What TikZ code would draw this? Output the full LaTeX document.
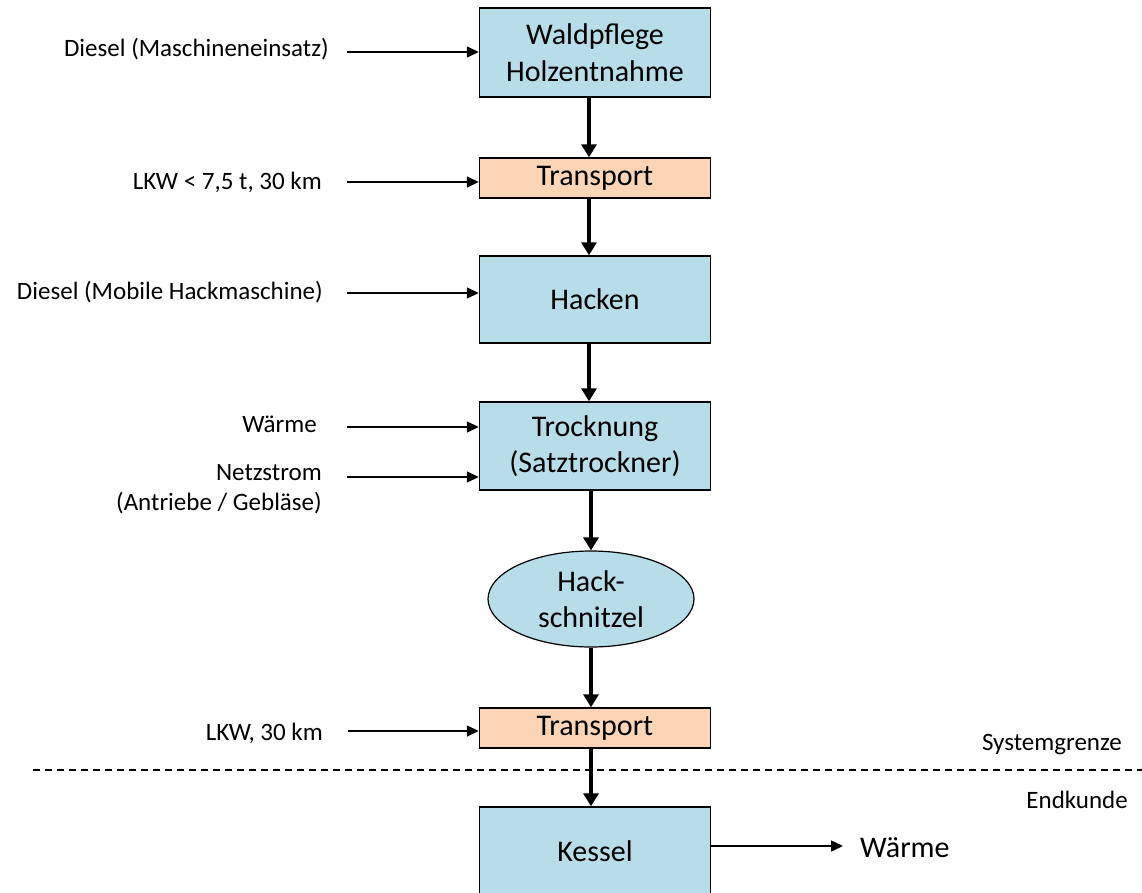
\documentclass[tikz,border=0pt]{standalone}
\usepackage{fontspec}
\setmainfont{Carlito}
\usetikzlibrary{arrows.meta,shapes.geometric}
\definecolor{boxblue}{HTML}{B7DDE8}
\definecolor{boxpeach}{HTML}{FBD5B5}
\begin{document}
\begin{tikzpicture}[x=1pt,y=-1pt,
  proc/.style={draw=black, line width=1.4pt, fill=boxblue, minimum width=231pt, inner sep=0pt, align=center, font=\fontsize{30}{36.6}\selectfont},
  trans/.style={proc, fill=boxpeach},
  prod/.style={ellipse, draw=black, line width=1.2pt, fill=boxblue, minimum width=206pt, minimum height=96pt, inner sep=0pt, align=center, font=\fontsize{30}{36}\selectfont},
  lbl/.style={inner sep=0pt, align=right, font=\fontsize{25}{30}\selectfont},
  biglbl/.style={inner sep=0pt, font=\fontsize{30}{36}\selectfont},
  flowarrow/.style={line width=4pt, -{Triangle[length=13pt,width=15pt]}},
  inarrow/.style={line width=1.5pt, -{Triangle[length=12pt,width=11pt]}},
  border/.style={line width=1.4pt, dash pattern=on 7pt off 5pt}
]
\clip (0,0) rectangle (1142,893);
\fill[white] (0,0) rectangle (1142,893);

% main chain
\node[proc, minimum height=89pt] (wald) at (595,52.5) {Waldpflege\\Holzentnahme};
\node[trans, minimum height=40pt] (tr1) at (595,178) {Transport};
\node[proc, minimum height=87pt] (hack) at (595,299.5) {Hacken};
\node[proc, minimum height=88pt] (troc) at (595,446) {Trocknung\\(Satztrockner)};
\node[prod] (hs) at (591,599) {Hack-\\schnitzel};
\node[trans, minimum height=40pt] (tr2) at (595,728) {Transport};
\node[proc, minimum height=89pt] (kessel) at (595,851.5) {Kessel};

% system boundary
\coordinate (d1) at (33,770);
\coordinate (d2) at (1142,770);
\draw[border] (d1) -- (d2);
\node[lbl, anchor=base east] (sg) at (1122,750) {Systemgrenze};
\node[lbl, anchor=base east] (ek) at (1128,808) {Endkunde};

% flow arrows
\draw[flowarrow] ([xshift=-6pt]wald.south) -- ([xshift=-6pt]tr1.north);
\draw[flowarrow] ([xshift=-6pt]tr1.south) -- ([xshift=-6pt]hack.north);
\draw[flowarrow] ([xshift=-6pt]hack.south) -- ([xshift=-6pt]troc.north);
\draw[flowarrow] (hs.north |- troc.south) -- (hs.north);
\draw[flowarrow] (hs.south) -- (hs.south |- tr2.north);
\draw[flowarrow] (hs.south |- tr2.south) -- (hs.south |- kessel.north);

% inputs
\coordinate (i1) at (347,52);
\draw[inarrow] (i1) -- (i1 -| wald.west);
\node[lbl, anchor=base east] (l1) at (329,57) {Diesel (Maschineneinsatz)};

\coordinate (i2) at (347,182);
\draw[inarrow] (i2) -- (i2 -| tr1.west);
\node[lbl, anchor=base east] (l2) at (322,190) {LKW < 7,5 t, 30 km};

\coordinate (i3) at (347,293);
\draw[inarrow] (i3) -- (i3 -| hack.west);
\node[lbl, anchor=base east] (l3) at (323,299) {Diesel (Mobile Hackmaschine)};

\coordinate (i4) at (347,427);
\draw[inarrow] (i4) -- (i4 -| troc.west);
\node[lbl, anchor=base east] (l4) at (317,432) {Wärme};

\coordinate (i5) at (347,477);
\draw[inarrow] (i5) -- (i5 -| troc.west);
\node[lbl, anchor=east] (l5) at (322,489) {Netzstrom\\(Antriebe / Gebläse)};

\coordinate (i6) at (348,731);
\draw[inarrow] (i6) -- (i6 -| tr2.west);
\node[lbl, anchor=base east] (l6) at (323,740) {LKW, 30 km};

% output
\coordinate (o1) at (843,846);
\draw[inarrow] (kessel.east |- o1) -- (o1);
\node[biglbl, anchor=base west] (out) at (860,857) {Wärme};
\end{tikzpicture}
\end{document}
